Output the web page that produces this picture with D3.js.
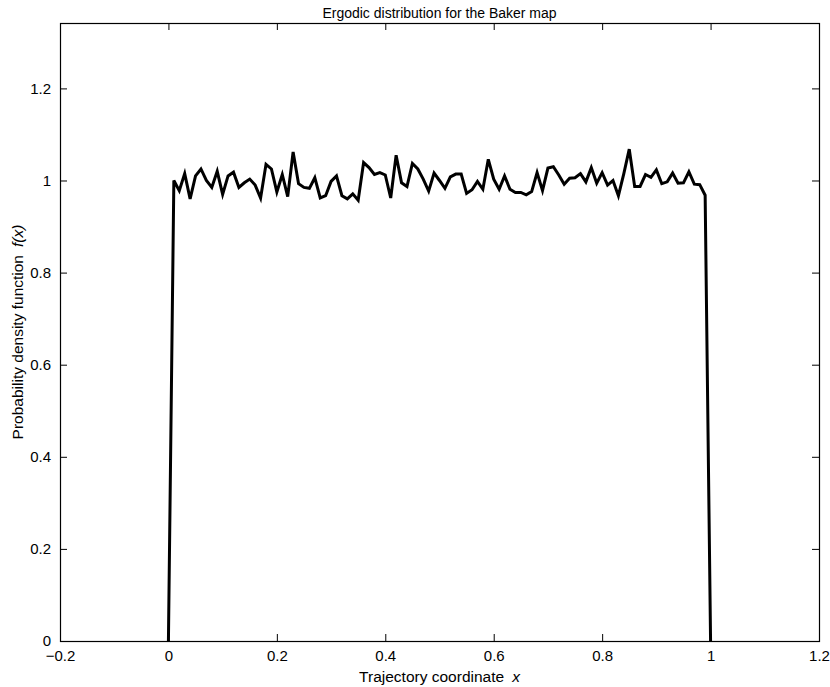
<!DOCTYPE html>
<html>
<head>
<meta charset="utf-8">
<script src="https://cdn.jsdelivr.net/npm/d3@7"></script>
<style>
  body { margin: 0; background: #fff; }
  text { font-family: "Liberation Sans", Arial, Helvetica, sans-serif; fill: #000; }
</style>
</head>
<body>
<svg id="chart" width="830" height="687"></svg>
<script>
// histogram bin centres 0, 0.01, ... 1.0 and the estimated density in each bin
const binX = d3.range(0, 101).map(i => i / 100);
const density = [
  0,
  1.000, 0.978, 1.015, 0.960, 1.010, 1.025, 1.000, 0.985, 1.020, 0.970,
  1.010, 1.018, 0.985, 0.995, 1.003, 0.990, 0.962, 1.035, 1.025, 0.975,
  1.013, 0.965, 1.062, 0.993, 0.985, 0.983, 1.006, 0.962, 0.967, 0.998,
  1.010, 0.967, 0.960, 0.971, 0.957, 1.039, 1.028, 1.013, 1.017, 1.012,
  0.962, 1.055, 0.995, 0.987, 1.037, 1.025, 1.003, 0.977, 1.016, 1.000,
  0.983, 1.008, 1.014, 1.014, 0.972, 0.980, 0.998, 0.981, 1.046, 1.003,
  0.981, 1.010, 0.981, 0.974, 0.974, 0.969, 0.976, 1.017, 0.978, 1.027,
  1.030, 1.012, 0.992, 1.005, 1.006, 1.015, 0.997, 1.028, 0.994, 1.017,
  0.990, 1.000, 0.967, 1.015, 1.068, 0.987, 0.987, 1.013, 1.007, 1.023,
  0.993, 0.997, 1.016, 0.994, 0.995, 1.019, 0.992, 0.991, 0.968,
  0
];
const xTicks = [-0.2, 0, 0.2, 0.4, 0.6, 0.8, 1, 1.2];
const yTicks = [0, 0.2, 0.4, 0.6, 0.8, 1, 1.2];

const box = { left: 60, right: 819, top: 23, bottom: 641 };
const tickLen = 7;

const svg = d3.select('#chart');

const x = d3.scaleLinear().domain([-0.2, 1.2]).range([box.left, box.right]);
const y = d3.scaleLinear().domain([0, 1.342]).range([box.bottom, box.top]);

const fmt = v => (v < 0 ? '\u2212' : '') + String(Math.abs(v));

// clip so the line ends cleanly at the bottom of the box
svg.append('clipPath').attr('id', 'plotArea')
  .append('rect')
  .attr('x', box.left).attr('y', box.top)
  .attr('width', box.right - box.left).attr('height', box.bottom - box.top);

// data line
const line = d3.line()
  .x((d, i) => x(binX[i]))
  .y(d => y(d));

svg.append('path')
  .datum(density)
  .attr('clip-path', 'url(#plotArea)')
  .attr('fill', 'none')
  .attr('stroke', '#000')
  .attr('stroke-width', 3)
  .attr('stroke-linejoin', 'miter')
  .attr('d', line);

// axes, MATLAB style: ticks pointing in, on all four sides
const axBottom = d3.axisBottom(x).tickValues(xTicks).tickSize(-tickLen).tickPadding(9).tickFormat(fmt);
const axTop = d3.axisTop(x).tickValues(xTicks).tickSize(-tickLen).tickFormat('');
const axLeft = d3.axisLeft(y).tickValues(yTicks).tickSize(-tickLen).tickPadding(9).tickFormat(fmt);
const axRight = d3.axisRight(y).tickValues(yTicks).tickSize(-tickLen).tickFormat('');

function style(g) {
  g.select('.domain').remove();
  g.selectAll('line').attr('stroke', '#000').attr('stroke-width', 1);
  g.selectAll('text').attr('font-size', 15).attr('fill', '#000');
}

svg.append('g').attr('transform', `translate(0,${box.bottom})`).call(axBottom).call(style);
svg.append('g').attr('transform', `translate(0,${box.top})`).call(axTop).call(style);
svg.append('g').attr('transform', `translate(${box.left},0)`).call(axLeft).call(style);
svg.append('g').attr('transform', `translate(${box.right},0)`).call(axRight).call(style);

// bounding box
svg.append('rect')
  .attr('x', box.left + 0.5).attr('y', box.top + 0.5)
  .attr('width', box.right - box.left).attr('height', box.bottom - box.top)
  .attr('fill', 'none')
  .attr('stroke', '#000')
  .attr('stroke-width', 1.2);

// title and labels
svg.append('text')
  .attr('x', (box.left + box.right) / 2).attr('y', 18)
  .attr('text-anchor', 'middle')
  .attr('font-size', 14)
  .text('Ergodic distribution for the Baker map');

const xl = svg.append('text')
  .attr('x', (box.left + box.right) / 2).attr('y', 682)
  .attr('text-anchor', 'middle')
  .attr('font-size', 15.5);
xl.append('tspan').text('Trajectory coordinate');
xl.append('tspan').attr('dx', 8).attr('font-style', 'italic').text('x');

const yl = svg.append('text')
  .attr('transform', `translate(23,${(box.top + box.bottom) / 2}) rotate(-90)`)
  .attr('text-anchor', 'middle')
  .attr('font-size', 15.5);
yl.append('tspan').text('Probability density function');
yl.append('tspan').attr('dx', 8).attr('font-style', 'italic').text('f');
yl.append('tspan').attr('font-style', 'italic').text('(x)');
</script>
</body>
</html>
